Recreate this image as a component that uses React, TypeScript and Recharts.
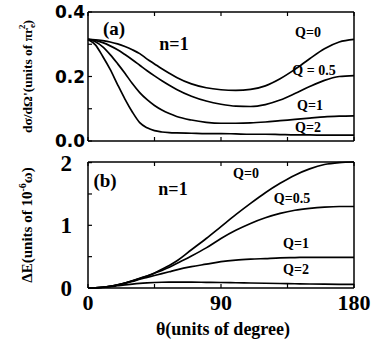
import { LineChart, Line, XAxis, YAxis, Label } from "recharts";

// scattering angle (degrees), shared by both panels
const theta = [0, 5, 10, 15, 20, 25, 30, 35, 40, 45, 50, 55, 60, 70, 80, 90, 100, 110, 120, 130, 140, 150, 160, 170, 180];

// panel (a): dσ/dΩ' in units of πr_e²
const crossQ0 = [0.315, 0.314, 0.311, 0.307, 0.301, 0.293, 0.283, 0.271, 0.254, 0.239, 0.224, 0.21, 0.197, 0.177, 0.165, 0.159, 0.157, 0.16, 0.171, 0.193, 0.222, 0.255, 0.286, 0.307, 0.315];
const crossQ05 = [0.315, 0.312, 0.305, 0.295, 0.283, 0.268, 0.252, 0.235, 0.218, 0.202, 0.187, 0.173, 0.16, 0.139, 0.124, 0.114, 0.108, 0.107, 0.113, 0.127, 0.147, 0.169, 0.188, 0.2, 0.203];
const crossQ1 = [0.315, 0.308, 0.292, 0.268, 0.24, 0.21, 0.178, 0.15, 0.128, 0.11, 0.096, 0.085, 0.076, 0.065, 0.058, 0.055, 0.055, 0.056, 0.059, 0.063, 0.067, 0.071, 0.075, 0.077, 0.078];
const crossQ2 = [0.315, 0.298, 0.262, 0.222, 0.175, 0.13, 0.09, 0.057, 0.041, 0.032, 0.028, 0.026, 0.025, 0.024, 0.023, 0.023, 0.022, 0.021, 0.021, 0.02, 0.019, 0.019, 0.018, 0.018, 0.018];

// panel (b): ΔE in units of 10⁻⁶ω
const shiftQ0 = [0, 0.003, 0.012, 0.028, 0.05, 0.08, 0.115, 0.155, 0.19, 0.24, 0.3, 0.36, 0.43, 0.61, 0.79, 0.98, 1.17, 1.35, 1.52, 1.67, 1.8, 1.9, 1.97, 2.0, 2.01];
const shiftQ05 = [0, 0.003, 0.012, 0.028, 0.05, 0.08, 0.113, 0.15, 0.19, 0.235, 0.28, 0.33, 0.39, 0.51, 0.64, 0.79, 0.92, 1.03, 1.12, 1.19, 1.24, 1.27, 1.29, 1.3, 1.3];
const shiftQ1 = [0, 0.003, 0.012, 0.027, 0.048, 0.075, 0.105, 0.14, 0.17, 0.2, 0.23, 0.26, 0.29, 0.34, 0.38, 0.42, 0.445, 0.46, 0.47, 0.48, 0.485, 0.49, 0.49, 0.49, 0.49];
const shiftQ2 = [0, 0.003, 0.01, 0.022, 0.036, 0.05, 0.063, 0.074, 0.082, 0.088, 0.092, 0.094, 0.095, 0.094, 0.091, 0.088, 0.084, 0.08, 0.076, 0.072, 0.068, 0.064, 0.061, 0.059, 0.058];

const xTicks = [0, 45, 90, 135, 180];
const xLabels = [0, 90, 180];
const crossTicks = [0, 0.1, 0.2, 0.3, 0.4];
const crossLabels = [0, 0.2, 0.4];
const shiftTicks = [0, 0.5, 1, 1.5, 2];
const shiftLabels = [0, 1, 2];

const keys = ["q0", "q05", "q1", "q2"];

const crossData = theta.map((t, i) => ({ theta: t, q0: crossQ0[i], q05: crossQ05[i], q1: crossQ1[i], q2: crossQ2[i] }));
const shiftData = theta.map((t, i) => ({ theta: t, q0: shiftQ0[i], q05: shiftQ05[i], q1: shiftQ1[i], q2: shiftQ2[i] }));

const SERIF = "'Liberation Serif', 'Times New Roman', serif";
const SANS = "'DejaVu Sans', sans-serif";
const INK = "#000";

// ticks point inward; tickSize/tickMargin are 0 so x,y sit on the axis line
function tickMaker(side: string, labels: number[] | null, opts: any = {}) {
  return (props: any) => {
    const { x, y, payload } = props;
    const v = payload.value;
    const show = !!labels && labels.includes(v);
    if (side === "bottom")
      return (
        <g>
          <line x1={x} y1={y} x2={x} y2={y - 4} stroke={INK} strokeWidth={1.2} />
          {show && (
            <text x={x} y={y + 22} textAnchor="middle" fontFamily={SERIF} fontWeight="bold" fontSize={22} fill={INK}>
              {v}
            </text>
          )}
        </g>
      );
    if (side === "top") return <line x1={x} y1={y} x2={x} y2={y + 4} stroke={INK} strokeWidth={1.2} />;
    if (side === "right") return <line x1={x} y1={y} x2={x - 4} y2={y} stroke={INK} strokeWidth={1.2} />;
    return (
      <g>
        <line x1={x} y1={y} x2={x + 4} y2={y} stroke={INK} strokeWidth={1.2} />
        {show && (
          <text x={x - opts.gap} y={y + opts.shift} textAnchor="end" fontFamily={opts.font} fontWeight="bold" fontSize={opts.size} fill={INK}>
            {opts.fmt ? opts.fmt(v) : v}
          </text>
        )}
      </g>
    );
  };
}

const axisLine = { stroke: INK, strokeWidth: 1.5 };

function Panel({ data, yMax, yTicks, yLabels, yOpts, yTitle, titleSize, withXLabels, height, top, bottomH }: any) {
  return (
    <div style={{ position: "absolute", left: 0, top }}>
      <LineChart width={373} height={height} data={data} margin={{ top: 0, right: 0, bottom: 0, left: 0 }}>
        <XAxis
          dataKey="theta"
          type="number"
          domain={[0, 180]}
          ticks={xTicks}
          interval={0}
          height={bottomH}
          tickSize={0}
          tickMargin={0}
          tickLine={false}
          axisLine={axisLine}
          tick={tickMaker("bottom", withXLabels ? xLabels : null)}
        >
          {withXLabels && (
            <Label
              content={(p: any) => {
                const vb = p.viewBox;
                return (
                  <text x={vb.x + vb.width / 2 + 2} y={vb.y + 47} textAnchor="middle" fontFamily={SERIF} fontWeight="bold" fontSize={18} fill={INK}>
                    θ(units of degree)
                  </text>
                );
              }}
            />
          )}
        </XAxis>
        <XAxis
          xAxisId="top"
          orientation="top"
          dataKey="theta"
          type="number"
          domain={[0, 180]}
          ticks={xTicks}
          interval={0}
          height={12}
          tickSize={0}
          tickMargin={0}
          tickLine={false}
          axisLine={axisLine}
          tick={tickMaker("top", null)}
        />
        <YAxis
          type="number"
          domain={[0, yMax]}
          ticks={yTicks}
          interval={0}
          width={88}
          tickSize={0}
          tickMargin={0}
          tickLine={false}
          axisLine={axisLine}
          tick={tickMaker("left", yLabels, yOpts)}
        >
          <Label
            content={(p: any) => {
              const vb = p.viewBox;
              return (
                <text
                  transform={`translate(32,${vb.y + vb.height / 2}) rotate(-90)`}
                  textAnchor="middle"
                  fontFamily={SERIF}
                  fontWeight="bold"
                  fontSize={titleSize}
                  fill={INK}
                >
                  {yTitle}
                </text>
              );
            }}
          />
        </YAxis>
        <YAxis
          yAxisId="right"
          orientation="right"
          type="number"
          domain={[0, yMax]}
          ticks={yTicks}
          interval={0}
          width={19}
          tickSize={0}
          tickMargin={0}
          tickLine={false}
          axisLine={axisLine}
          tick={tickMaker("right", null)}
        />
        {keys.map((k) => (
          <Line key={k} dataKey={k} type="monotone" stroke={INK} strokeWidth={1.7} dot={false} isAnimationActive={false} />
        ))}
      </LineChart>
    </div>
  );
}

const txt = { fontFamily: SERIF, fontWeight: "bold" as const, fill: INK };

export default function App() {
  return (
    <div style={{ position: "absolute", left: 0, top: 0, width: 373, height: 345, background: "#fff", overflow: "hidden" }}>
      <Panel
        data={crossData}
        yMax={0.4}
        yTicks={crossTicks}
        yLabels={crossLabels}
        yOpts={{ gap: 3, shift: 6, font: SANS, size: 17, fmt: (v: number) => v.toFixed(1) }}
        yTitle={
          <>
            dσ/dΩ'(units of πr
            <tspan dy={3} fontSize={9}>e</tspan>
            <tspan dx={-5} dy={-10} fontSize={9}>2</tspan>
            <tspan dy={7}>)</tspan>
          </>
        }
        titleSize={13.5}
        withXLabels={false}
        height={150}
        top={0}
        bottomH={9}
      />
      <Panel
        data={shiftData}
        yMax={2}
        yTicks={shiftTicks}
        yLabels={shiftLabels}
        yOpts={{ gap: 16, shift: 8, font: SERIF, size: 23 }}
        yTitle={
          <>
            ΔE(units of 10
            <tspan dy={-6} fontSize={10}>-6</tspan>
            <tspan dy={6}>ω)</tspan>
          </>
        }
        titleSize={15}
        withXLabels={true}
        height={195}
        top={150}
        bottomH={57}
      />
      <svg width={373} height={345} style={{ position: "absolute", left: 0, top: 0, pointerEvents: "none" }}>
        <text x={114} y={35} textAnchor="middle" fontSize={19} {...txt}>(a)</text>
        <text x={174} y={50} textAnchor="middle" fontSize={18} {...txt}>n=1</text>
        <text x={308} y={37} textAnchor="middle" fontSize={14} {...txt}>Q=0</text>
        <text x={314} y={75} textAnchor="middle" fontSize={14} {...txt}>Q = 0.5</text>
        <text x={310} y={110} textAnchor="middle" fontSize={14} {...txt}>Q=1</text>
        <text x={308} y={132} textAnchor="middle" fontSize={14} {...txt}>Q=2</text>
        <text x={105} y={187} textAnchor="middle" fontSize={19} {...txt}>(b)</text>
        <text x={173} y={195} textAnchor="middle" fontSize={18} {...txt}>n=1</text>
        <text x={246} y={178} textAnchor="middle" fontSize={14} {...txt}>Q=0</text>
        <text x={292} y={203} textAnchor="middle" fontSize={14} {...txt}>Q=0.5</text>
        <text x={296} y={248} textAnchor="middle" fontSize={14} {...txt}>Q=1</text>
        <text x={296} y={274} textAnchor="middle" fontSize={14} {...txt}>Q=2</text>
      </svg>
    </div>
  );
}
